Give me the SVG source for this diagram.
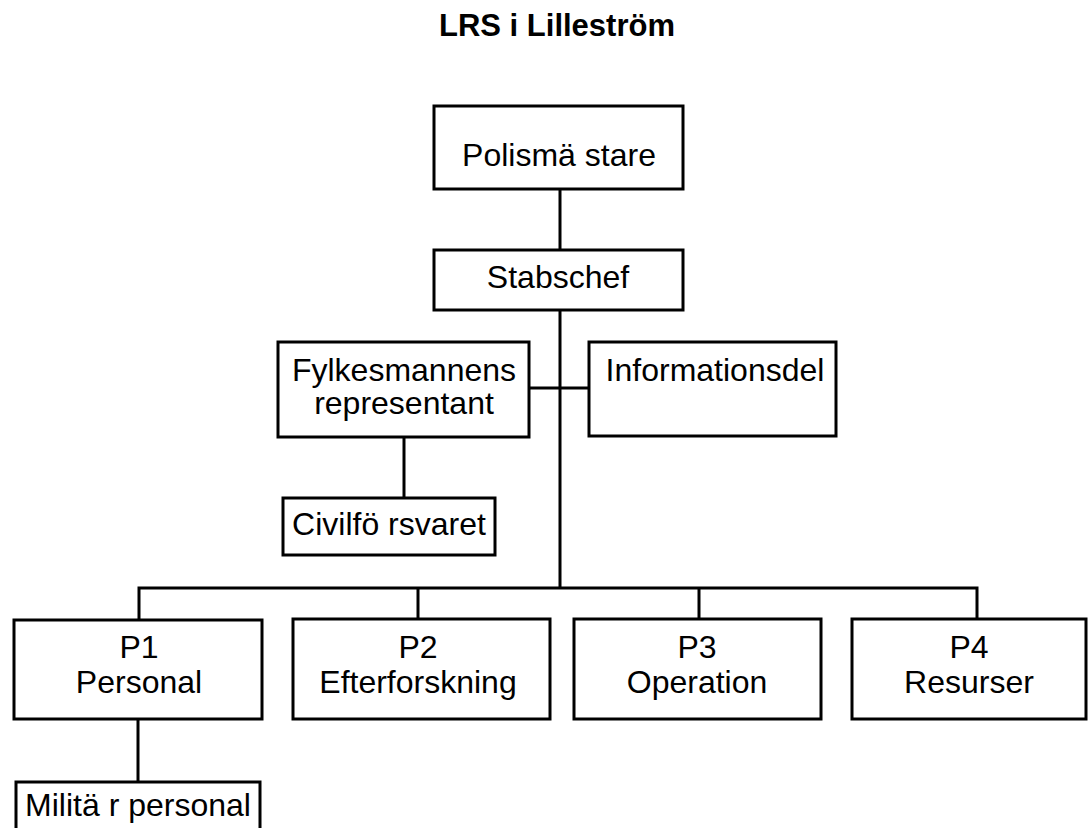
<svg xmlns="http://www.w3.org/2000/svg" width="1088" height="828" viewBox="0 0 1088 828">
<style>
.box{fill:#fff;stroke:#000;stroke-width:3}
.lbl{font-family:"Liberation Sans",Arial,sans-serif;font-size:32px;fill:#000;text-anchor:middle}
.title{font-family:"Liberation Sans",Arial,sans-serif;font-size:31px;font-weight:bold;fill:#000;text-anchor:middle}
.con{fill:none;stroke:#000;stroke-width:3}
</style>
<rect width="1088" height="828" fill="#fff"/>
<text class="title" x="557" y="36">LRS i Lilleström</text>
<g id="connectors">
<line class="con" x1="560" y1="189" x2="560" y2="250"/>
<line class="con" x1="560" y1="310" x2="560" y2="588"/>
<line class="con" x1="529" y1="388" x2="589" y2="388"/>
<line class="con" x1="404" y1="437" x2="404" y2="498"/>
<polyline class="con" points="139,620 139,588 977,588 977,619"/>
<line class="con" x1="418" y1="588" x2="418" y2="619"/>
<line class="con" x1="699" y1="588" x2="699" y2="619"/>
<line class="con" x1="138" y1="719" x2="138" y2="782"/>
</g>
<g id="polismastare">
<rect class="box" x="434" y="106" width="249" height="83"/>
<text class="lbl" x="559" y="166">Polismä stare</text>
</g>
<g id="stabschef">
<rect class="box" x="434" y="250" width="249" height="60"/>
<text class="lbl" x="558" y="288">Stabschef</text>
</g>
<g id="fylkesmannens">
<rect class="box" x="278" y="342" width="251" height="95"/>
<text class="lbl" x="404" y="381">Fylkesmannens</text>
<text class="lbl" x="404" y="414">representant</text>
</g>
<g id="informationsdel">
<rect class="box" x="589" y="342" width="247" height="94"/>
<text class="lbl" x="715" y="381">Informationsdel</text>
</g>
<g id="civilforsvaret">
<rect class="box" x="283" y="498" width="212" height="57"/>
<text class="lbl" x="389" y="535">Civilfö rsvaret</text>
</g>
<g id="p1">
<rect class="box" x="14" y="620" width="248" height="99"/>
<text class="lbl" x="139" y="658">P1</text>
<text class="lbl" x="139" y="693">Personal</text>
</g>
<g id="p2">
<rect class="box" x="293" y="619" width="257" height="100"/>
<text class="lbl" x="418" y="658">P2</text>
<text class="lbl" x="418" y="693">Efterforskning</text>
</g>
<g id="p3">
<rect class="box" x="574" y="619" width="247" height="100"/>
<text class="lbl" x="697" y="658">P3</text>
<text class="lbl" x="697" y="693">Operation</text>
</g>
<g id="p4">
<rect class="box" x="852" y="619" width="234" height="100"/>
<text class="lbl" x="969" y="658">P4</text>
<text class="lbl" x="969" y="693">Resurser</text>
</g>
<g id="militar">
<path class="box" d="M16,830 V782 H260 V830"/>
<text class="lbl" x="138" y="816">Militä r personal</text>
</g>
</svg>
